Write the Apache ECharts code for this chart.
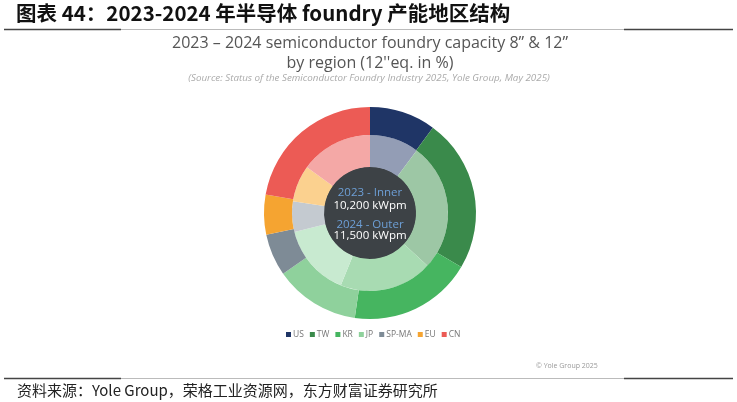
<!DOCTYPE html>
<html><head><meta charset="utf-8">
<script src="https://cdn.jsdelivr.net/npm/echarts@6/dist/echarts.min.js"></script>
<style>html,body{margin:0;padding:0;background:#fff}#c{width:737px;height:402px}</style>
</head><body><div id="c"></div>
<script>
const regions = ['US','TW','KR','JP','SP-MA','EU','CN'];
const share2023 = [10.2, 26.6, 19.3, 15.0, 6.3, 7.6, 15.0];
const share2024 = [10.1, 23.4, 18.8, 13.0, 6.4, 6.1, 22.2];
const outerColors = ['#1f3566','#3a8a4b','#46b560','#8fd19c','#7e8b96','#f5a431','#ec5b55'];
const innerColors = ['#939db5','#9dc7a5','#a8dbb2','#c8ead0','#c4cad0','#fbd18f','#f4a8a6'];
const centerLines = ['2023 - Inner','10,200 kWpm','2024 - Outer','11,500 kWpm'];

const chart = echarts.init(document.getElementById('c'));
const cx = 370, cy = 213;
chart.setOption({
  animation:false,
  legend:{
    left:281, top:325, itemWidth:5, itemHeight:5, itemGap:6,
    icon:'rect',
    textStyle:{fontSize:8.5, color:'#777', fontFamily:'Open Sans', padding:[0,0,0,-3]},
    data: regions.map((r,i)=>({name:r, itemStyle:{color:outerColors[i]}})),
    selectedMode:false
  },
  graphic:[
    {type:'text', left:16, top:3, style:{text:'图表 44：2023-2024 年半导体 foundry 产能地区结构', fontFamily:'"Liberation Sans Narrow","Noto Sans CJK SC"', fontWeight:'bold', fontSize:20.5, fill:'#111'}},
    {type:'line', shape:{x1:4,y1:29.5,x2:121,y2:29.5}, style:{stroke:'#444', lineWidth:1.3}},
    {type:'line', shape:{x1:121,y1:29.5,x2:624,y2:29.5}, style:{stroke:'#bbb', lineWidth:1}},
    {type:'line', shape:{x1:624,y1:29.5,x2:733,y2:29.5}, style:{stroke:'#444', lineWidth:1.3}},
    {type:'text', x:370, y:43, style:{text:'2023 – 2024 semiconductor foundry capacity 8” & 12”', fontFamily:'"Open Sans"', fontSize:16, fill:'#555', align:'center', verticalAlign:'middle'}},
    {type:'text', x:370, y:63, style:{text:'by region (12\'\'eq. in %)', fontFamily:'"Open Sans"', fontSize:16, fill:'#555', align:'center', verticalAlign:'middle'}},
    {type:'text', x:369, y:78, style:{text:'(Source: Status of the Semiconductor Foundry Industry 2025, Yole Group, May 2025)', fontFamily:'"Open Sans"', fontStyle:'italic', fontSize:9.8, fill:'#aaa', align:'center', verticalAlign:'middle'}},
    {type:'circle', shape:{cx:cx, cy:cy, r:46.5}, style:{fill:'#3d4246'}, z:-1},
    {type:'text', x:cx, y:193, style:{text:centerLines[0], fontFamily:'"Open Sans"', fontSize:11.5, fill:'#6d9fd6', align:'center', verticalAlign:'middle'}},
    {type:'text', x:cx, y:206, style:{text:centerLines[1], fontFamily:'"Open Sans"', fontSize:11.5, fill:'#ffffff', align:'center', verticalAlign:'middle'}},
    {type:'text', x:cx, y:225, style:{text:centerLines[2], fontFamily:'"Open Sans"', fontSize:11.5, fill:'#6d9fd6', align:'center', verticalAlign:'middle'}},
    {type:'text', x:cx, y:236, style:{text:centerLines[3], fontFamily:'"Open Sans"', fontSize:11.5, fill:'#ffffff', align:'center', verticalAlign:'middle'}},
    {type:'text', x:536, y:366, style:{text:'© Yole Group 2025', fontFamily:'"Open Sans"', fontSize:7, fill:'#999', verticalAlign:'middle'}},
    {type:'line', shape:{x1:4,y1:378.5,x2:121,y2:378.5}, style:{stroke:'#444', lineWidth:1.3}},
    {type:'line', shape:{x1:121,y1:378.5,x2:624,y2:378.5}, style:{stroke:'#bbb', lineWidth:1}},
    {type:'line', shape:{x1:624,y1:378.5,x2:733,y2:378.5}, style:{stroke:'#444', lineWidth:1.3}},
    {type:'text', left:17, top:383, style:{text:'资料来源：Yole Group，荣格工业资源网，东方财富证券研究所', fontFamily:'"Liberation Sans Narrow","Noto Sans CJK SC"', fontSize:15, fill:'#222'}}
  ],
  series:[
    {type:'pie', name:'2023', center:[cx,cy], radius:[46,78], startAngle:90, clockwise:true,
     label:{show:false}, labelLine:{show:false}, emphasis:{disabled:true}, silent:true,
     data: regions.map((r,i)=>({name:r, value:share2023[i], itemStyle:{color:innerColors[i]}}))},
    {type:'pie', name:'2024', center:[cx,cy], radius:[78,106], startAngle:90, clockwise:true,
     label:{show:false}, labelLine:{show:false}, emphasis:{disabled:true}, silent:true,
     data: regions.map((r,i)=>({name:r, value:share2024[i], itemStyle:{color:outerColors[i]}}))}
  ]
});
</script></body></html>
